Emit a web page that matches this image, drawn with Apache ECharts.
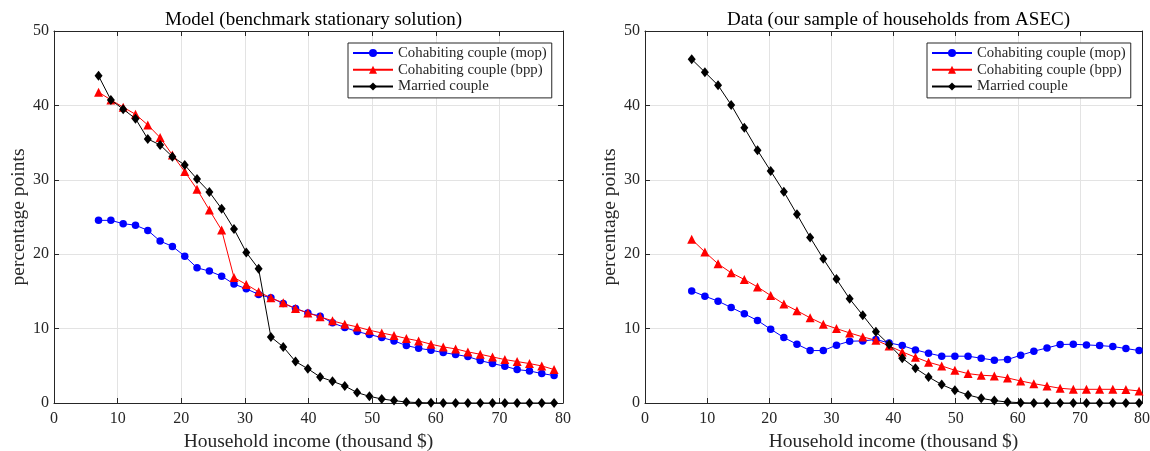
<!DOCTYPE html>
<html>
<head>
<meta charset="utf-8">
<script src="https://cdn.jsdelivr.net/npm/echarts@6/dist/echarts.min.js"></script>
<style>
html,body{margin:0;padding:0;background:#fff;}
#chart{width:1150px;height:451px;}
</style>
</head>
<body>
<div id="chart"></div>
<script>
// ---------- data ----------
const titles = ['Model (benchmark stationary solution)', 'Data (our sample of households from ASEC)'];
const seriesNames = ['Cohabiting couple (mop)', 'Cohabiting couple (bpp)', 'Married couple'];
const xTicks = [0, 10, 20, 30, 40, 50, 60, 70, 80];
const yTicks = [0, 10, 20, 30, 40, 50];

const modelIncome = [7.0, 8.94, 10.87, 12.81, 14.74, 16.68, 18.61, 20.55, 22.48, 24.42, 26.35, 28.29, 30.22, 32.16, 34.09, 36.03, 37.96, 39.9, 41.83, 43.77, 45.7, 47.64, 49.57, 51.51, 53.44, 55.38, 57.31, 59.25, 61.18, 63.12, 65.05, 66.99, 68.92, 70.86, 72.79, 74.73, 76.66, 78.6];
const modelMop = [24.55, 24.55, 24.1, 23.9, 23.2, 21.76, 21.05, 19.74, 18.17, 17.73, 17.05, 15.98, 15.35, 14.59, 14.13, 13.38, 12.7, 12.1, 11.67, 10.77, 10.15, 9.6, 9.2, 8.8, 8.35, 7.72, 7.36, 7.09, 6.78, 6.51, 6.24, 5.7, 5.3, 4.94, 4.49, 4.31, 3.96, 3.69];
const modelBpp = [41.78, 40.74, 39.76, 38.8, 37.37, 35.67, 33.34, 31.1, 28.72, 25.94, 23.24, 16.87, 15.93, 14.94, 14.13, 13.46, 12.7, 12.1, 11.58, 11.04, 10.6, 10.23, 9.78, 9.42, 9.07, 8.67, 8.35, 7.9, 7.54, 7.27, 6.87, 6.55, 6.19, 5.84, 5.57, 5.3, 4.98, 4.5];
const modelMarried = [43.97, 40.74, 39.49, 38.22, 35.49, 34.68, 33.11, 31.99, 30.1, 28.36, 26.1, 23.38, 20.24, 18.04, 8.88, 7.54, 5.57, 4.6, 3.5, 2.92, 2.29, 1.4, 0.9, 0.54, 0.32, 0.13, 0.05, 0.02, 0.01, 0, 0, 0, 0, 0, 0, 0, 0, 0];

const dataIncome = [7.52, 9.64, 11.76, 13.87, 15.99, 18.11, 20.23, 22.35, 24.46, 26.58, 28.7, 30.82, 32.94, 35.05, 37.17, 39.29, 41.41, 43.53, 45.64, 47.76, 49.88, 52.0, 54.12, 56.23, 58.35, 60.47, 62.59, 64.71, 66.82, 68.94, 71.06, 73.18, 75.3, 77.41, 79.53];
const dataMop = [15.07, 14.36, 13.69, 12.84, 11.98, 11.09, 9.92, 8.8, 7.9, 7.05, 7.05, 7.77, 8.3, 8.35, 8.53, 8.08, 7.72, 7.14, 6.69, 6.29, 6.29, 6.29, 6.02, 5.75, 5.84, 6.42, 6.96, 7.4, 7.86, 7.9, 7.81, 7.72, 7.59, 7.32, 7.05];
const dataBpp = [22.0, 20.3, 18.7, 17.5, 16.6, 15.6, 14.45, 13.3, 12.4, 11.45, 10.6, 10.0, 9.42, 8.88, 8.44, 7.67, 6.87, 6.15, 5.48, 4.98, 4.4, 3.95, 3.73, 3.64, 3.37, 2.96, 2.6, 2.29, 1.98, 1.84, 1.84, 1.84, 1.84, 1.8, 1.62];
const dataMarried = [46.2, 44.47, 42.7, 40.07, 37.0, 33.97, 31.18, 28.4, 25.36, 22.26, 19.38, 16.65, 14.0, 11.8, 9.56, 7.86, 6.02, 4.67, 3.5, 2.47, 1.71, 1.08, 0.63, 0.32, 0.13, 0.04, 0, 0, 0, 0, 0, 0, 0, 0, 0];

// ---------- styling ----------
const FONT = 'Liberation Serif';
const AX = '#262626';
const GRIDC = '#e3e3e3';
const colors = ['#0000ff', '#ff0000', '#000000'];
const symbols = ['circle', 'triangle', 'diamond'];
const symSizes = [7.5, 9, [8, 10]];

const grids = [
  {left: 54, top: 31, width: 509, height: 372},
  {left: 645, top: 31, width: 497, height: 372}
];

function pairs(xs, ys) { return xs.map((x, i) => [x, ys[i]]); }

const xAxes = [], yAxes = [];
grids.forEach((g, gi) => {
  xAxes.push({
    type: 'value', gridIndex: gi, min: xTicks[0], max: xTicks[xTicks.length - 1], interval: 10,
    name: 'Household income (thousand $)', nameLocation: 'middle', nameGap: 27,
    nameTextStyle: {fontFamily: FONT, fontSize: 19.5, color: AX},
    axisLine: {onZero: false, lineStyle: {color: AX, width: 1}},
    axisTick: {inside: true, length: 5, lineStyle: {color: AX}},
    axisLabel: {fontFamily: FONT, fontSize: 16, color: AX, margin: 8},
    splitLine: {show: true, lineStyle: {color: GRIDC, width: 1}}
  });
  xAxes.push({
    type: 'value', gridIndex: gi, position: 'top', min: 0, max: 80, interval: 10,
    axisLine: {onZero: false, lineStyle: {color: AX, width: 1}},
    axisTick: {inside: true, length: 5, lineStyle: {color: AX}},
    axisLabel: {show: false}, splitLine: {show: false}
  });
  yAxes.push({
    type: 'value', gridIndex: gi, min: yTicks[0], max: yTicks[yTicks.length - 1], interval: 10,
    name: 'percentage points', nameLocation: 'middle', nameGap: 24,
    nameTextStyle: {fontFamily: FONT, fontSize: 19.5, color: AX},
    axisLine: {show: true, onZero: false, lineStyle: {color: AX, width: 1}},
    axisTick: {show: true, inside: true, length: 5, lineStyle: {color: AX}},
    axisLabel: {fontFamily: FONT, fontSize: 16, color: AX, margin: 5},
    splitLine: {show: true, lineStyle: {color: GRIDC, width: 1}}
  });
  yAxes.push({
    type: 'value', gridIndex: gi, position: 'right', min: 0, max: 50, interval: 10,
    axisLine: {show: true, onZero: false, lineStyle: {color: AX, width: 1}},
    axisTick: {show: true, inside: true, length: 5, lineStyle: {color: AX}},
    axisLabel: {show: false}, splitLine: {show: false}
  });
});

const panels = [
  [modelIncome, [modelMop, modelBpp, modelMarried]],
  [dataIncome, [dataMop, dataBpp, dataMarried]]
];
const series = [];
panels.forEach((p, gi) => {
  p[1].forEach((ys, si) => {
    series.push({
      name: seriesNames[si], type: 'line',
      xAxisIndex: gi * 2, yAxisIndex: gi * 2,
      data: pairs(p[0], ys),
      symbol: symbols[si], symbolSize: symSizes[si], showSymbol: true,
      lineStyle: {color: colors[si], width: 1},
      itemStyle: {color: colors[si], borderWidth: 0},
      emphasis: {disabled: true}, animation: false, z: 3 + si
    });
  });
});

const legendBase = {
  orient: 'vertical', top: 43, data: seriesNames,
  itemWidth: 40, itemHeight: 10, itemGap: 1.7,
  padding: [2.5, 5, 4, 4],
  backgroundColor: '#fff', borderColor: AX, borderWidth: 1,
  textStyle: {fontFamily: FONT, fontSize: 14.8, color: AX, lineHeight: 15},
  selectedMode: false
};

const option = {
  backgroundColor: '#fff',
  animation: false,
  title: titles.map((t, i) => ({
    text: t, left: grids[i].left + grids[i].width / 2, top: 6, textAlign: 'center',
    textStyle: {fontFamily: FONT, fontSize: 19, fontWeight: 'normal', color: '#000'}
  })),
  legend: [
    Object.assign({}, legendBase, {left: 348}),
    Object.assign({}, legendBase, {left: 927})
  ],
  grid: grids.map(g => Object.assign({show: false, containLabel: false, outerBoundsMode: 'none'}, g)),
  xAxis: xAxes,
  yAxis: yAxes,
  series: series
};

const chart = echarts.init(document.getElementById('chart'), null, {renderer: 'canvas'});
chart.setOption(option);
</script>
</body>
</html>
